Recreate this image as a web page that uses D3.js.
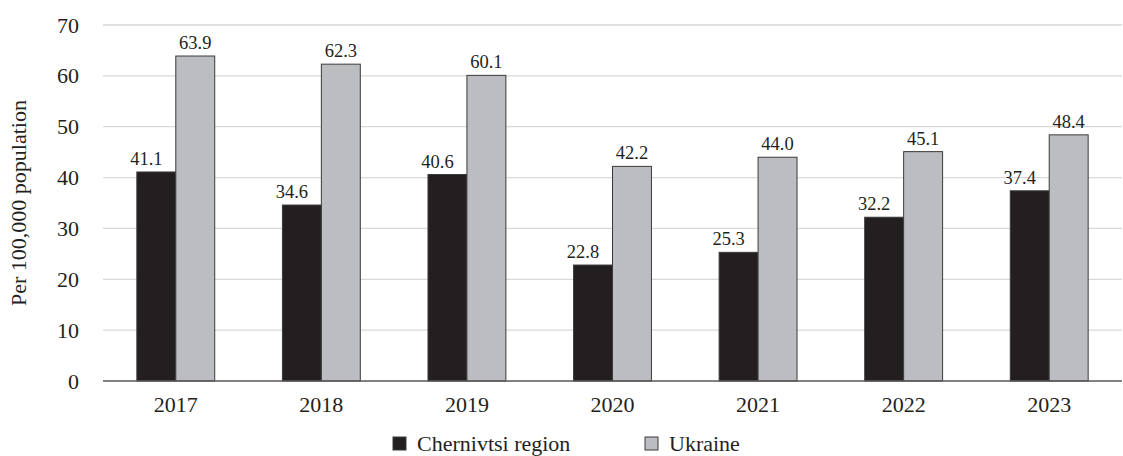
<!DOCTYPE html>
<html><head><meta charset="utf-8">
<script src="https://cdn.jsdelivr.net/npm/d3@7"></script>
<style>body{margin:0;background:#fff}svg{display:block}text{font-family:"Liberation Serif",serif;fill:#231f20}</style>
</head><body><svg id="c" width="1123" height="456"></svg>
<script>
const years = ["2017","2018","2019","2020","2021","2022","2023"];
const chernivtsi = [41.1,34.6,40.6,22.8,25.3,32.2,37.4];
const ukraine = [63.9,62.3,60.1,42.2,44.0,45.1,48.4];
const seriesNames = ["Chernivtsi region","Ukraine"];
const yTicks = [0,10,20,30,40,50,60,70];

const svg = d3.select("#c");
const m = {l:103, r:1122, t:25, b:381};
const x = d3.scaleBand().domain(years).range([m.l,m.r]).paddingInner(0.465).paddingOuter(0.2325);
const x1 = d3.scaleBand().domain(seriesNames).range([0,x.bandwidth()]);
const y = d3.scaleLinear().domain([0,70]).range([m.b,m.t]);
const colors = ["#231f20","#bcbdc0"];
const data = [chernivtsi, ukraine];
const FF = "Liberation Serif";

svg.append("g").selectAll("line").data(yTicks.filter(d=>d>0)).join("line")
  .attr("x1",m.l).attr("x2",m.r).attr("y1",d=>y(d)).attr("y2",d=>y(d))
  .attr("stroke","#d9d9d9").attr("stroke-width",1.3);

const yAx = svg.append("g").attr("transform",`translate(${m.l},0)`)
  .call(d3.axisLeft(y).tickValues(yTicks).tickSize(0).tickPadding(24));
yAx.select(".domain").remove();
yAx.selectAll("text").attr("font-size",22).attr("font-family",FF).attr("fill","#231f20");

seriesNames.forEach((s,i)=>{
  const g = svg.append("g");
  g.selectAll("rect").data(years).join("rect")
    .attr("x",d=>x(d)+x1(s)).attr("width",x1.bandwidth())
    .attr("y",(d,j)=>y(data[i][j])).attr("height",(d,j)=>y(0)-y(data[i][j]))
    .attr("fill",colors[i]).attr("stroke","#3a3a3a").attr("stroke-width",1);
  g.selectAll("text").data(years).join("text")
    .attr("x",d=>x(d)+x1(s)+x1.bandwidth()/2 + (i===0?-10:0))
    .attr("y",(d,j)=>y(data[i][j])-7)
    .attr("text-anchor","middle").attr("font-size",18.5)
    .text((d,j)=>data[i][j].toFixed(1));
});

svg.append("line").attr("x1",m.l).attr("x2",m.r).attr("y1",y(0)).attr("y2",y(0))
  .attr("stroke","#595959").attr("stroke-width",1.5);

const xAx = svg.append("g").attr("transform",`translate(0,${m.b})`)
  .call(d3.axisBottom(x).tickSize(0).tickPadding(15));
xAx.select(".domain").remove();
xAx.selectAll("text").attr("font-size",22).attr("font-family",FF).attr("fill","#231f20");

svg.append("text").attr("transform","translate(26,203) rotate(-90)")
  .attr("text-anchor","middle").attr("font-size",22).text("Per 100,000 population");

const leg = svg.append("g");
const legX = [393,645];
seriesNames.forEach((s,i)=>{
  leg.append("rect").attr("x",legX[i]).attr("y",437).attr("width",13).attr("height",13)
    .attr("fill",colors[i]).attr("stroke","#3a3a3a").attr("stroke-width",1);
  leg.append("text").attr("x",legX[i]+24).attr("y",451).attr("font-size",22).text(s);
});
</script></body></html>
